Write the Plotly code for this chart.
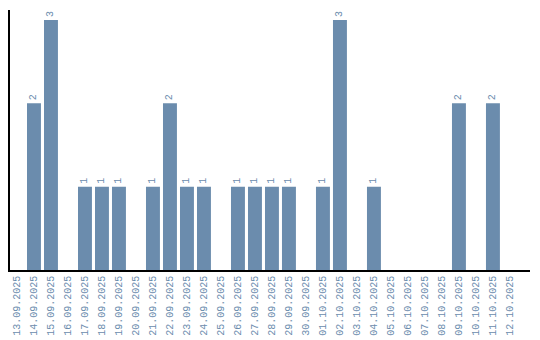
import plotly.graph_objects as go

dates = ["13.09.2025","14.09.2025","15.09.2025","16.09.2025","17.09.2025","18.09.2025",
         "19.09.2025","20.09.2025","21.09.2025","22.09.2025","23.09.2025","24.09.2025",
         "25.09.2025","26.09.2025","27.09.2025","28.09.2025","29.09.2025","30.09.2025",
         "01.10.2025","02.10.2025","03.10.2025","04.10.2025","05.10.2025","06.10.2025",
         "07.10.2025","08.10.2025","09.10.2025","10.10.2025","11.10.2025","12.10.2025"]
counts = [0,2,3,0,1,1,1,0,1,2,1,1,0,1,1,1,1,0,1,3,0,1,0,0,0,0,2,0,2,0]

color = "#6b8cad"
labels = [str(v) if v > 0 else "" for v in counts]

fig = go.Figure(go.Bar(
    x=dates, y=counts, marker_color=color, marker_line_width=0,
    text=labels, textposition="outside", textangle=-90,
    textfont=dict(family="Liberation Mono", size=10, color=color),
    cliponaxis=False,
))
fig.update_layout(
    width=540, height=340, margin=dict(l=10, r=10, t=10, b=70),
    plot_bgcolor="white", paper_bgcolor="white",
    bargap=0.18, showlegend=False,
    xaxis=dict(type="category", range=[-0.41, 30.18], tickangle=-90, automargin=False,
               tickfont=dict(family="Liberation Mono", size=10, color=color),
               showline=True, linecolor="black", linewidth=1.5, ticks="",
               showgrid=False, zeroline=False),
    yaxis=dict(range=[0, 3.12], showline=True, linecolor="black", linewidth=1.5,
               showticklabels=False, ticks="", showgrid=False, zeroline=False),
)
fig.write_html("out.html")
